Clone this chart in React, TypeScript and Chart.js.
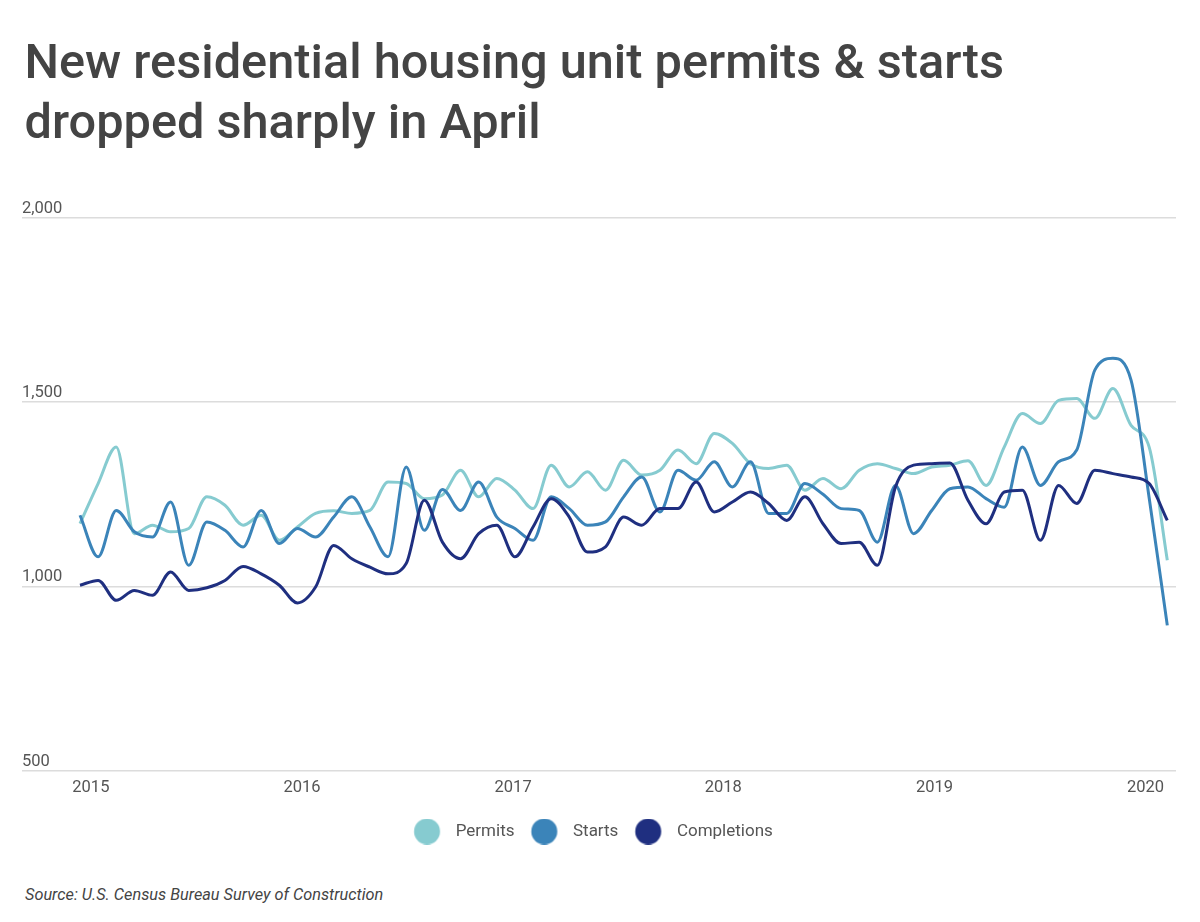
import React, { useEffect, useRef } from "react";
import { Chart, registerables } from "chart.js";

Chart.register(...registerables);

// Monthly values, April 2015 – April 2020 (thousands of units, SAAR)
const seriesNames = ["Permits", "Starts", "Completions"];
const seriesColors = ["#86cbd0", "#3b84b9", "#1f2f80"];

const permits = [
  1170, 1279, 1378, 1143, 1166, 1148, 1157, 1243, 1220, 1166,
  1193, 1125, 1161, 1198, 1205, 1198, 1206, 1283, 1279, 1238,
  1248, 1315, 1243, 1293, 1261, 1211, 1329, 1270, 1311, 1261,
  1342, 1302, 1315, 1370, 1333, 1415, 1388, 1333, 1320, 1329,
  1261, 1293, 1265, 1315, 1333, 1320, 1306, 1324, 1329, 1341,
  1274, 1378, 1469, 1442, 1505, 1510, 1456, 1537, 1437, 1378,
  1071,
];

const starts = [
  1193, 1080, 1206, 1148, 1134, 1229, 1057, 1175, 1152, 1107,
  1206, 1116, 1157, 1134, 1188, 1243, 1161, 1080, 1324, 1152,
  1263, 1206, 1283, 1188, 1157, 1125, 1243, 1211, 1166, 1175,
  1243, 1297, 1202, 1315, 1288, 1338, 1270, 1338, 1198, 1198,
  1279, 1250, 1211, 1206, 1120, 1274, 1143, 1206, 1265, 1270,
  1238, 1215, 1378, 1274, 1338, 1370, 1587, 1619, 1560, 1240,
  894,
];

const completions = [
  1003, 1016, 962, 989, 976, 1039, 989, 996, 1016, 1054,
  1034, 1003, 955, 998, 1111, 1075, 1052, 1034, 1062, 1234,
  1120, 1075, 1143, 1166, 1080, 1161, 1238, 1188, 1093, 1107,
  1188, 1166, 1211, 1211, 1283, 1202, 1229, 1256, 1225, 1179,
  1243, 1170, 1116, 1120, 1057, 1270, 1329, 1333, 1335, 1234,
  1170, 1256, 1261, 1125, 1274, 1225, 1315, 1306, 1297, 1279,
  1179,
];

const yearLabels = ["2015", "2016", "2017", "2018", "2019", "2020"];
// where each year label sits along the month index axis
const yearTickPos = [0.6, 12.25, 23.9, 35.5, 47.15, 58.8];
const yTickValues = [500, 1000, 1500, 2000];

const seriesValues = [permits, starts, completions];

function makeDot(color: string): HTMLCanvasElement {
  const c = document.createElement("canvas");
  c.width = 48;
  c.height = 26;
  const g = c.getContext("2d")!;
  g.fillStyle = color;
  g.beginPath();
  g.arc(14.8, 13, 13, 0, Math.PI * 2);
  g.fill();
  return c;
}

export default function App() {
  const ref = useRef<HTMLCanvasElement | null>(null);

  useEffect(() => {
    if (!ref.current) return;
    const dots = seriesColors.map(makeDot);
    const datasets = seriesNames.map((name, k) => ({
      label: name,
      data: seriesValues[k].map((v, i) => ({ x: i, y: v })),
      borderColor: seriesColors[k],
      backgroundColor: seriesColors[k],
      borderWidth: 3,
      pointRadius: 0,
      pointHoverRadius: 0,
      fill: false,
      cubicInterpolationMode: "monotone" as const,
      order: 3 - k,
    }));

    const chart = new Chart(ref.current, {
      type: "line",
      data: { datasets },
      options: {
        animation: false,
        responsive: true,
        maintainAspectRatio: false,
        layout: { padding: { left: 14, right: 16, top: 28, bottom: 0 } },
        plugins: {
          tooltip: { enabled: false },
          legend: {
            position: "bottom",
            align: "center",
            labels: {
              usePointStyle: true,
              pointStyleWidth: 22,
              padding: 28,
              color: "#555",
              font: { family: "Roboto", size: 17 },
              sort: (a: any, b: any) => a.datasetIndex - b.datasetIndex,
              generateLabels: (c: any) =>
                (Chart.defaults.plugins.legend.labels as any)
                  .generateLabels(c)
                  .map((item: any) => ({
                    ...item,
                    pointStyle: dots[item.datasetIndex],
                  })),
            },
          },
        },
        scales: {
          x: {
            type: "linear",
            min: -3.2,
            max: 60.48,
            grid: { display: false, drawTicks: false },
            border: { display: false },
            afterBuildTicks: (axis: any) => {
              axis.ticks = yearTickPos.map((v) => ({ value: v }));
            },
            afterFit: (axis: any) => {
              axis.height = 24.5;
            },
            ticks: {
              padding: 7,
              color: "#555",
              font: { family: "Roboto", size: 16.5 },
              maxRotation: 0,
              autoSkip: false,
              callback: (_v: any, i: number) => yearLabels[i],
            },
          },
          y: {
            min: 500,
            max: 2000,
            afterBuildTicks: (axis: any) => {
              axis.ticks = yTickValues.map((v) => ({ value: v }));
            },
            grid: { color: "#dcdcdc", lineWidth: 1.5, drawTicks: false },
            border: { display: false },
            ticks: {
              mirror: true,
              padding: 0,
              labelOffset: -9,
              color: "#555",
              font: { family: "Roboto", size: 16.5 },
              callback: (v: any) => Number(v).toLocaleString("en-US"),
            },
          },
        },
      },
    });
    return () => chart.destroy();
  }, []);

  return (
    <div
      style={{
        position: "relative",
        width: 1184,
        height: 906,
        fontFamily: "Roboto, sans-serif",
      }}
    >
      <div
        style={{
          position: "absolute",
          left: 16.5,
          top: 24,
          fontSize: 48.7,
          fontWeight: 500,
          lineHeight: "60px",
          color: "#444",
          whiteSpace: "nowrap",
        }}
      >
        New residential housing unit permits &amp; starts
        <br />
        dropped sharply in April
      </div>
      <div
        style={{
          position: "absolute",
          left: 0,
          top: 182,
          width: 1184,
          height: 660,
        }}
      >
        <canvas ref={ref} />
      </div>
      <div
        style={{
          position: "absolute",
          left: 17,
          top: 877,
          fontSize: 16.3,
          fontStyle: "italic",
          lineHeight: "19px",
          color: "#444",
          whiteSpace: "nowrap",
        }}
      >
        Source: U.S. Census Bureau Survey of Construction
      </div>
    </div>
  );
}
